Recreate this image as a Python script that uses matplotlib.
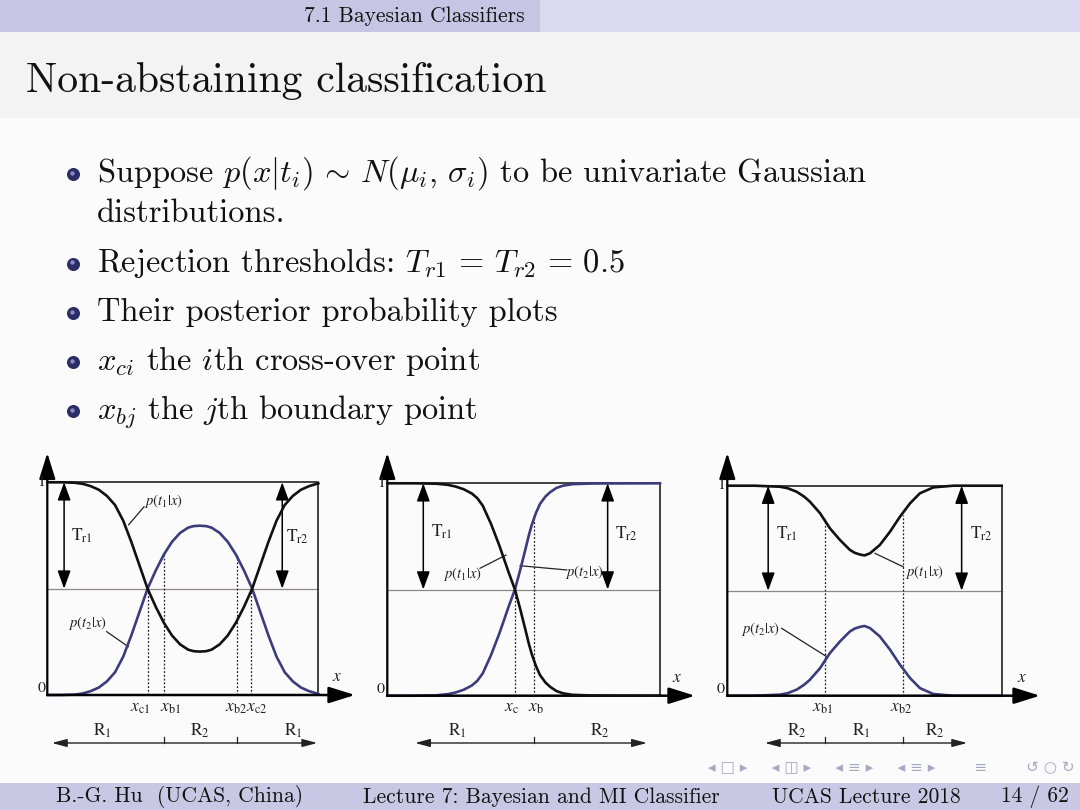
import matplotlib
matplotlib.use("Agg")
import matplotlib.pyplot as plt
from matplotlib.patches import Rectangle

W, H = 1080, 810

# ---------------- slide text ----------------
section_label = "7.1 Bayesian Classifiers"
slide_title = "Non-abstaining classification"
bullet_lines = [
    r"Suppose $p(x|t_i)\,\sim\,N(\mu_i,\,\sigma_i)$ to be univariate Gaussian",
    r"Rejection thresholds: $T_{r1}\,=\,T_{r2}\,=\,0.5$",
    r"Their posterior probability plots",
    r"$x_{ci}$ the $i$th cross-over point",
    r"$x_{bj}$ the $j$th boundary point",
]
continuation_line = "distributions."
footer_author = "B.-G. Hu  (UCAS, China)"
footer_lecture = "Lecture 7: Bayesian and MI Classifier"
footer_course = "UCAS Lecture 2018"
footer_page = "14 / 62"
nav_symbols = ("\u25c2 \u25a1 \u25b8     \u25c2 \u25eb \u25b8     \u25c2 \u2261 \u25b8     "
               "\u25c2 \u2261 \u25b8        \u2261        \u21ba \u25cb \u21bb")

# ---------------- panel 1: two cross-over points ----------------
p1_x = [0, 5, 10, 13, 16, 19, 22, 25, 28, 31, 34, 37, 40, 43, 46, 49, 52, 54, 56.3,
        58.6, 60.6, 63.6, 66.6, 69.6, 72.6, 75.6, 78.6, 81.6, 84.6, 87.6, 90.6, 93.6, 96.6, 100]
p1_t1 = [1.0, 1.0, 0.998, 0.993, 0.982, 0.965, 0.936, 0.893, 0.82, 0.72, 0.61, 0.5, 0.415, 0.34,
         0.28, 0.238, 0.213, 0.206, 0.204, 0.206, 0.213, 0.238, 0.28, 0.34, 0.415, 0.5, 0.61,
         0.72, 0.82, 0.893, 0.936, 0.965, 0.982, 0.995]
p1_t2 = [0.0, 0.0, 0.002, 0.007, 0.018, 0.035, 0.064, 0.107, 0.18, 0.28, 0.39, 0.5, 0.585, 0.66,
         0.72, 0.762, 0.787, 0.794, 0.796, 0.794, 0.787, 0.762, 0.72, 0.66, 0.585, 0.5, 0.39,
         0.28, 0.18, 0.107, 0.064, 0.035, 0.018, 0.005]
p1_marks_x = [37.0, 43.2, 70.1, 75.3]
p1_marks_h = [0.5, 0.66, 0.66, 0.5]
p1_mark_labels = [r"$x_{\rm c1}$", r"$x_{\rm b1}$", r"$x_{\rm b2}$", r"$x_{\rm c2}$"]
p1_mark_label_x = [34.4, 45.6, 69.6, 77.4]
p1_regions = ["R$_1$", "R$_2$", "R$_1$"]
p1_region_x = [20.2, 56.3, 90.7]
p1_region_ticks = [43.2, 70.1]
p1_region_span = [1.7, 99.6]

# ---------------- panel 2: one cross-over point ----------------
p2_x = [0, 10, 18, 22, 25, 28, 31, 33, 35, 36.4, 38, 39.5, 41, 42.5, 44.4, 46.8, 48.7, 50.5, 52,
        53, 54.5, 56, 58, 59.7, 62, 64.5, 68, 75, 100]
p2_t1 = [1, 1, 0.998, 0.993, 0.985, 0.972, 0.952, 0.93, 0.895, 0.855, 0.81, 0.76, 0.71, 0.655,
         0.584, 0.5, 0.41, 0.318, 0.24, 0.195, 0.14, 0.097, 0.062, 0.042, 0.022, 0.011, 0.004,
         0.001, 0]
p2_t2 = [0, 0, 0.002, 0.007, 0.015, 0.028, 0.048, 0.07, 0.105, 0.145, 0.19, 0.24, 0.29, 0.345,
         0.416, 0.5, 0.59, 0.682, 0.76, 0.805, 0.86, 0.903, 0.938, 0.958, 0.978, 0.989, 0.996,
         0.999, 1]
p2_marks_x = [46.8, 53.9]
p2_marks_h = [0.5, 0.83]
p2_mark_labels = [r"$x_{\rm c}$", r"$x_{\rm b}$"]
p2_mark_label_x = [45.7, 54.5]
p2_regions = ["R$_1$", "R$_2$"]
p2_region_x = [25.6, 78.0]
p2_region_ticks = [53.9]
p2_region_span = [10.2, 95.2]

# ---------------- panel 3: no cross-over point ----------------
p3_x = [0, 10, 19.2, 22, 25.3, 28, 30.1, 33.8, 37.4, 41.1, 44.7, 46.5, 48.4, 50, 52.0, 55.6,
        59.3, 62.9, 66.6, 70.2, 75.1, 82.4, 100]
p3_t1 = [1, 1, 0.995, 0.988, 0.971, 0.948, 0.924, 0.869, 0.797, 0.741, 0.694, 0.68, 0.672,
         0.668, 0.678, 0.718, 0.781, 0.852, 0.916, 0.964, 0.992, 1, 1]
p3_t2 = [0, 0, 0.005, 0.012, 0.029, 0.052, 0.076, 0.131, 0.203, 0.259, 0.306, 0.32, 0.328,
         0.332, 0.322, 0.282, 0.219, 0.148, 0.084, 0.036, 0.008, 0, 0]
p3_marks_x = [35.6, 63.9]
p3_marks_h = [0.84, 0.86]
p3_mark_labels = [r"$x_{\rm b1}$", r"$x_{\rm b2}$"]
p3_mark_label_x = [34.8, 63.3]
p3_regions = ["R$_2$", "R$_1$", "R$_2$"]
p3_region_x = [25.3, 49.0, 75.7]
p3_region_ticks = [35.6, 63.9]
p3_region_span = [13.7, 87.4]

# label placement per panel (layout)
tr_arrow_x = [[6.2, 86.7], [13.2, 80.8], [14.9, 85.4]]
tr_label_pos = [[(12.7, 0.75), (92.4, 0.745)], [(19.9, 0.77), (87.8, 0.763)],
                [(21.6, 0.773), (92.7, 0.769)]]
t1_label = [((42.8, 0.912), (35.7, 0.885), (30.0, 0.80)),
            ((27.4, 0.571), (34.0, 0.600), (43.5, 0.662)),
            ((71.7, 0.588), (64.1, 0.614), (53.8, 0.678))]
t2_label = [((14.8, 0.337), (21.9, 0.298), (29.9, 0.227)),
            ((72.1, 0.581), (65.8, 0.592), (48.7, 0.612)),
            ((11.9, 0.318), (19.8, 0.321), (36.2, 0.186))]

# pixel boxes of the plotting frames: left, right, top(y=1), bottom(y=0)
boxes = [(47.3, 318.3, 482.3, 695.0), (387.3, 660.0, 483.3, 695.7), (727.3, 1001.7, 485.7, 695.7)]
xarrow_end_px = [355, 695, 1040]
yarrow_top_px = 453

fig = plt.figure(figsize=(W / 100, H / 100), dpi=100)
fig.patch.set_facecolor("#fbfbfb")

bg = fig.add_axes([0, 0, 1, 1])
bg.set_xlim(0, W)
bg.set_ylim(H, 0)
bg.axis("off")
bg.add_patch(Rectangle((0, 0), 540, 32, color="#c6c6e4", lw=0))
bg.add_patch(Rectangle((540, 0), 540, 32, color="#dadaf0", lw=0))
bg.add_patch(Rectangle((0, 32), W, 86, color="#f3f3f3", lw=0))
bg.add_patch(Rectangle((0, 783), W, 27, color="#c8c8e4", lw=0))

CM = dict(fontfamily="cmr10", math_fontfamily="cm", color="#111111")
bg.text(525, 16, section_label, ha="right", va="center", fontsize=15.5, **CM)
bg.text(26, 92, slide_title, ha="left", va="baseline", fontsize=30, **CM)

bullet_baselines = [182, 271.5, 321, 370, 419]
for txt, yb in zip(bullet_lines, bullet_baselines):
    bg.text(97, yb, txt, ha="left", va="baseline", fontsize=23.4, **CM)
    bg.scatter([73], [yb - 8], s=70, color="#2c2c66", zorder=3)
    bg.scatter([71.5], [yb - 9.5], s=10, color="#8a8ac0", zorder=4, lw=0)
bg.text(97, 222, continuation_line, ha="left", va="baseline", fontsize=23.4, **CM)

bg.text(180, 797, footer_author, ha="center", va="center", fontsize=15.5, **CM)
bg.text(541, 797, footer_lecture, ha="center", va="center", fontsize=15.5, **CM)
bg.text(866, 797, footer_course, ha="center", va="center", fontsize=15.5, **CM)
bg.text(1035, 797, footer_page, ha="center", va="center", fontsize=15.5, **CM)
bg.text(1075, 768, nav_symbols, ha="right", va="center", fontsize=11,
        fontfamily="DejaVu Sans", color="#a8a8c0")

TM = dict(math_fontfamily="stix", fontfamily="STIXGeneral", color="#222222")
BLUE = "#3c3c7c"

panels = [
    (p1_x, p1_t1, p1_t2, p1_marks_x, p1_marks_h, p1_mark_labels, p1_mark_label_x,
     p1_regions, p1_region_x, p1_region_ticks, p1_region_span),
    (p2_x, p2_t1, p2_t2, p2_marks_x, p2_marks_h, p2_mark_labels, p2_mark_label_x,
     p2_regions, p2_region_x, p2_region_ticks, p2_region_span),
    (p3_x, p3_t1, p3_t2, p3_marks_x, p3_marks_h, p3_mark_labels, p3_mark_label_x,
     p3_regions, p3_region_x, p3_region_ticks, p3_region_span),
]

for i, (xs, t1, t2, mx, mh, mlab, mlx, regs, regx, regt, regspan) in enumerate(panels):
    x0, x1, ytop, ybot = boxes[i]
    ax = fig.add_axes([x0 / W, 1 - ybot / H, (x1 - x0) / W, (ybot - ytop) / H])
    ax.set_xlim(0, 100)
    ax.set_ylim(0, 1)
    ax.axis("off")
    ax.patch.set_visible(False)
    py = ybot - ytop
    px = (x1 - x0) / 100.0
    ytop_arrow = (ybot - yarrow_top_px) / py
    xend = (xarrow_end_px[i] - x0) / px

    # threshold line and frame
    ax.plot([0, 100], [0.5, 0.5], color="#8f8a88", lw=0.9, clip_on=False)
    ax.plot([0, 100, 100], [1, 1, 0], color="#333333", lw=1.3, clip_on=False)
    # posterior curves
    ax.plot(xs, t2, color=BLUE, lw=1.9, clip_on=False, zorder=3, solid_joinstyle="round")
    ax.plot(xs, t1, color="#111111", lw=1.9, clip_on=False, zorder=4, solid_joinstyle="round")
    # axes with arrows
    ax.annotate("", xy=(0, ytop_arrow), xytext=(0, 0), annotation_clip=False,
                arrowprops=dict(arrowstyle="-|>,head_length=0.8,head_width=0.25", color="black",
                                lw=1.6, shrinkA=0, shrinkB=0, mutation_scale=20))
    ax.annotate("", xy=(xend, 0), xytext=(0, 0), annotation_clip=False,
                arrowprops=dict(arrowstyle="-|>,head_length=0.8,head_width=0.25", color="black",
                                lw=1.8, shrinkA=0, shrinkB=0, mutation_scale=20))
    ax.text(-0.8, 1.0, "1", ha="right", va="center", fontsize=11.5, **TM)
    ax.text(-0.8, 0.03, "0", ha="right", va="center", fontsize=11.5, **TM)
    ax.text(xend - 6.5, 0.085, r"$x$", ha="center", va="center", fontsize=12.5, **TM)

    # threshold arrows
    for xa, (lx, ly), lab in zip(tr_arrow_x[i], tr_label_pos[i], [r"$\rm T_{r1}$", r"$\rm T_{r2}$"]):
        ax.annotate("", xy=(xa, 0.5), xytext=(xa, 1.0), annotation_clip=False,
                    arrowprops=dict(arrowstyle="<|-|>,head_length=0.55,head_width=0.2",
                                    color="black", lw=1.1, shrinkA=0, shrinkB=0,
                                    mutation_scale=20))
        ax.text(lx, ly, lab, ha="center", va="center", fontsize=12.5, **TM)

    # curve labels with leaders
    for (lpos, la, lb), lab in zip([t1_label[i], t2_label[i]],
                                   [r"$p(t_1|x)$", r"$p(t_2|x)$"]):
        ax.text(lpos[0], lpos[1], lab, ha="center", va="center", fontsize=10.5, **TM)
        ax.plot([la[0], lb[0]], [la[1], lb[1]], color="#222222", lw=0.9, clip_on=False)

    # cross-over / boundary markers
    for xm, hm in zip(mx, mh):
        ax.plot([xm, xm], [0, hm], color="#222222", lw=0.9, ls=(0, (1.5, 1.5)),
                clip_on=False, zorder=2)
    for lx, lab in zip(mlx, mlab):
        ax.text(lx, -0.06, lab, ha="center", va="center", fontsize=12.5, **TM)

    # region row
    yr = (ybot - 743) / py
    ax.annotate("", xy=(regspan[1], yr), xytext=(regspan[0], yr), annotation_clip=False,
                arrowprops=dict(arrowstyle="<|-|>,head_length=0.45,head_width=0.12",
                                color="#222222", lw=1.0, shrinkA=0, shrinkB=0,
                                mutation_scale=20))
    for xt in regt:
        ax.plot([xt, xt], [yr, yr + 6 / py], color="#222222", lw=0.9, clip_on=False)
    for xl, lab in zip(regx, regs):
        ax.text(xl, (ybot - 731) / py, lab, ha="center", va="center", fontsize=12.5, **TM)

fig.savefig("out.png", dpi=100, facecolor=fig.get_facecolor())
